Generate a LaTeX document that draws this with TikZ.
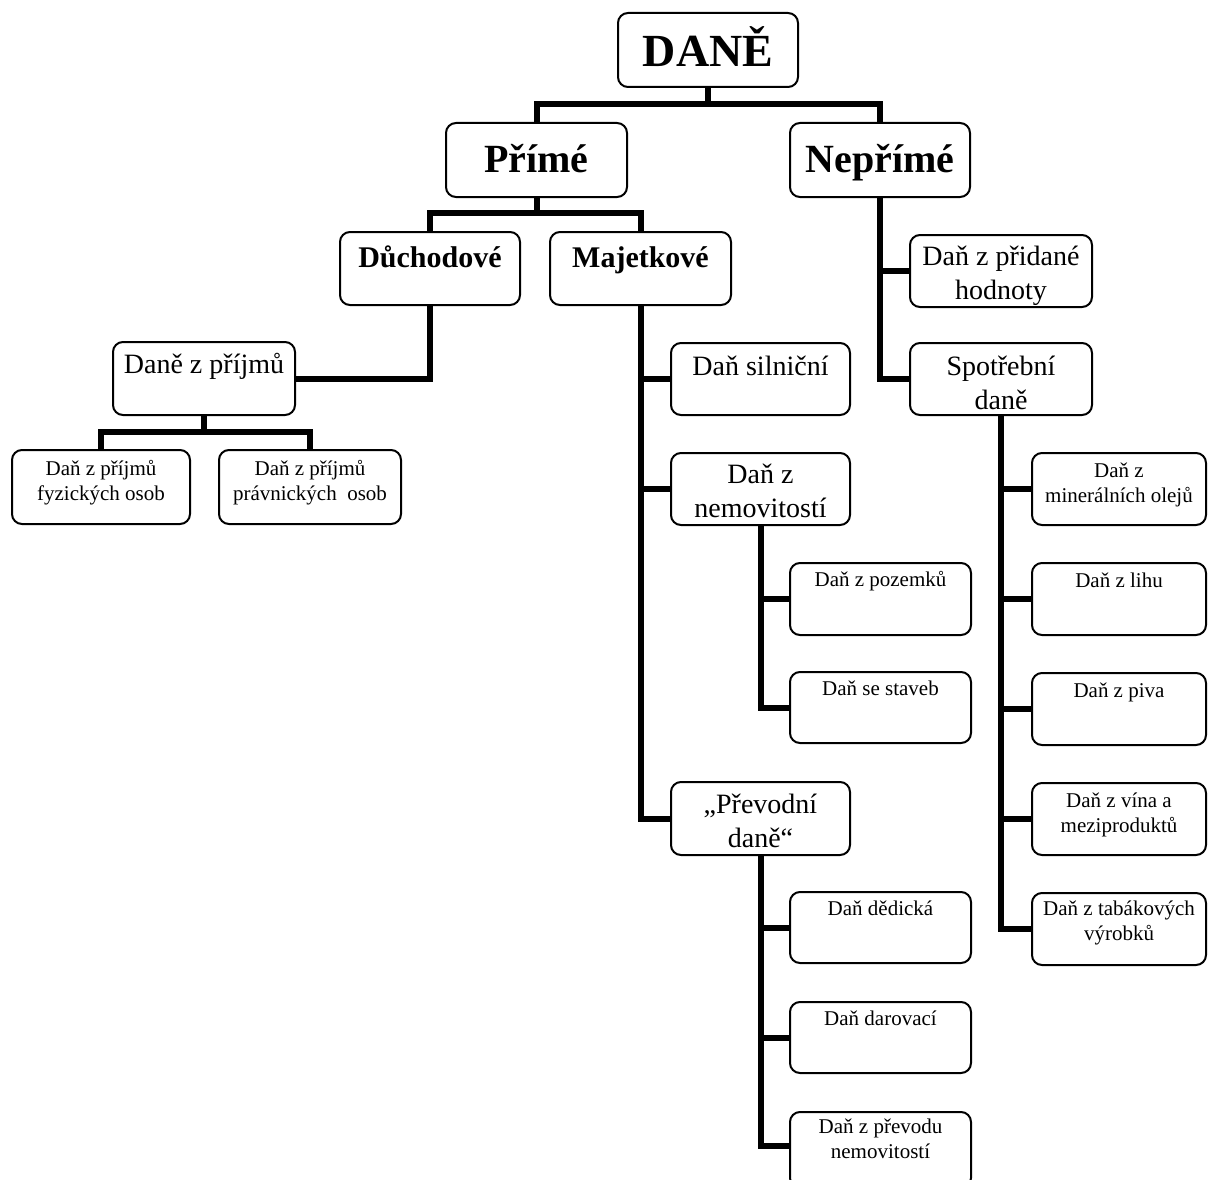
\documentclass[tikz,border=0pt]{standalone}
\usepackage{fontspec}
\setmainfont{Liberation Serif}
\newcommand{\bt}[5]{\parbox[c][#2][t]{#1}{#4\centering\rule{0pt}{#3}#5}}
\newcommand{\fD}{\fontsize{46}{50}\selectfont\bfseries}
\newcommand{\fP}{\fontsize{40}{44}\selectfont\bfseries}
\newcommand{\fB}{\fontsize{30}{34}\selectfont\bfseries}
\newcommand{\fM}{\fontsize{28}{34}\selectfont}
\newcommand{\fS}{\fontsize{21}{25}\selectfont}
\tikzset{
  box/.style={draw, line width=2pt, rounded corners=10pt, inner sep=0pt, outer sep=0pt},
  conn/.style={line width=6pt}
}
\begin{document}
\begin{tikzpicture}[x=1pt,y=-1pt]
\useasboundingbox[fill=white] (0,0) rectangle (1208,1180);
\begin{scope}
\clip (0,0) rectangle (1208,1180);
% top levels
\node[box] (dane) at (708,50) {\bt{180pt}{74pt}{54pt}{\fD}{DANĚ}};
\node[box] (prime) at (536.5,160) {\bt{181pt}{74pt}{49pt}{\fP}{Přímé}};
\node[box] (neprime) at (880,160) {\bt{180pt}{74pt}{49pt}{\fP}{Nepřímé}};
\node[box] (duch) at (430,268.5) {\bt{180pt}{73pt}{35pt}{\fB}{Důchodové}};
\node[box] (maj) at (640.5,268.5) {\bt{181pt}{73pt}{35pt}{\fB}{Majetkové}};
% income branch
\node[box] (dzp) at (204,378.5) {\bt{182pt}{73pt}{31pt}{\fM}{Daně z příjmů}};
\node[box] (fyz) at (101,487) {\bt{178pt}{74pt}{25pt}{\fS}{Daň z příjmů\\fyzických osob}};
\node[box] (prav) at (310,487) {\bt{182pt}{74pt}{25pt}{\fS}{Daň z příjmů\\právnických~ osob}};
% property branch
\node[box] (siln) at (760.5,379) {\bt{179pt}{72pt}{32pt}{\fM}{Daň silniční}};
\node[box] (nemov) at (760.5,489) {\bt{179pt}{72pt}{30pt}{\fM}{Daň z\\nemovitostí}};
\node[box] (poz) at (880.5,599) {\bt{181pt}{72pt}{23pt}{\fS}{Daň z pozemků}};
\node[box] (stav) at (880.5,707.5) {\bt{181pt}{71pt}{23pt}{\fS}{Daň se staveb}};
\node[box] (prev) at (760.5,818.5) {\bt{179pt}{73pt}{31pt}{\fM}{„Převodní\\daně“}};
\node[box] (ded) at (880.5,927.5) {\bt{181pt}{71pt}{23pt}{\fS}{Daň dědická}};
\node[box] (dar) at (880.5,1037.5) {\bt{181pt}{71pt}{23pt}{\fS}{Daň darovací}};
\node[box] (prevod) at (880.5,1150) {\bt{181pt}{76pt}{21pt}{\fS}{Daň z převodu\\nemovitostí}};
% indirect branch
\node[box] (dph) at (1001,271) {\bt{182pt}{72pt}{30pt}{\fM}{Daň z přidané\\hodnoty}};
\node[box] (spotr) at (1001,379) {\bt{182pt}{72pt}{32pt}{\fM}{Spotřební\\daně}};
\node[box] (r1) at (1119,489) {\bt{174pt}{72pt}{24pt}{\fS}{Daň z\\minerálních olejů}};
\node[box] (r2) at (1119,599) {\bt{174pt}{72pt}{24pt}{\fS}{Daň z lihu}};
\node[box] (r3) at (1119,709) {\bt{174pt}{72pt}{24pt}{\fS}{Daň z piva}};
\node[box] (r4) at (1119,819) {\bt{174pt}{72pt}{24pt}{\fS}{Daň z vína a\\meziproduktů}};
\node[box] (r5) at (1119,929) {\bt{174pt}{72pt}{22pt}{\fS}{Daň z tabákových\\výrobků}};
% connectors
\draw[conn] (dane.south) -- ++(0,17) -| (prime.north);
\draw[conn] (dane.south) -- ++(0,17) -| (neprime.north);
\draw[conn] (prime.south) -- ++(0,16) -| (duch.north);
\draw[conn] (prime.south) -- ++(0,16) -| (maj.north);
\draw[conn] (duch.south) |- (dzp.east);
\draw[conn] (dzp.south) -- ++(0,17) -| (fyz.north);
\draw[conn] (dzp.south) -- ++(0,17) -| (prav.north);
\draw[conn] (maj.south) |- (siln.west);
\draw[conn] (maj.south) |- (nemov.west);
\draw[conn] (maj.south) |- (prev.west);
\draw[conn] (nemov.south) |- (poz.west);
\draw[conn] (nemov.south) |- (stav.west);
\draw[conn] (prev.south) |- (ded.west);
\draw[conn] (prev.south) |- (dar.west);
\draw[conn] (prev.south) |- ([yshift=4pt]prevod.west);
\draw[conn] (neprime.south) |- (dph.west);
\draw[conn] (neprime.south) |- (spotr.west);
\draw[conn] (spotr.south) |- (r1.west);
\draw[conn] (spotr.south) |- (r2.west);
\draw[conn] (spotr.south) |- (r3.west);
\draw[conn] (spotr.south) |- (r4.west);
\draw[conn] (spotr.south) |- (r5.west);
\end{scope}
\end{tikzpicture}
\end{document}
